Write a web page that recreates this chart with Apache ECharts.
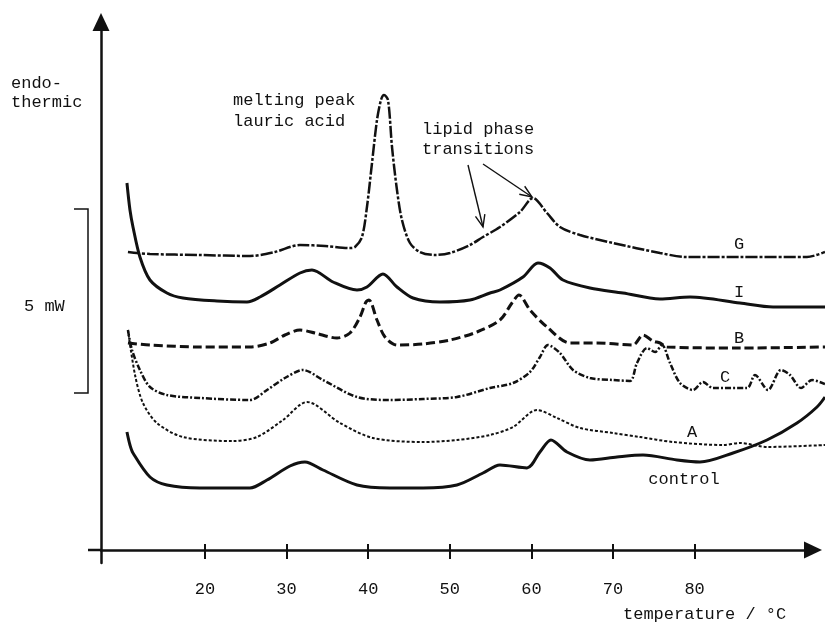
<!DOCTYPE html>
<html>
<head>
<meta charset="utf-8">
<title>DSC thermograms</title>
<script src="https://cdn.jsdelivr.net/npm/echarts@6/dist/echarts.min.js"></script>
<style>
  html, body { margin: 0; padding: 0; background: #fff; }
  #chart { width: 825px; height: 622px; }
</style>
</head>
<body>
<div id="chart"></div>
<script>
// temperature (°C) / heat flow (arbitrary, endothermic up)
const tempTicks = [20, 30, 40, 50, 60, 70, 80];

const curveG = [
  [10.56, 298], [13.26, 296], [19.39, 295], [25.51, 294], [28.58, 298], [31.64, 305],
  [34.71, 304], [37.77, 302], [38.38, 303], [39.24, 313], [39.85, 343], [40.47, 387],
  [41.08, 430], [41.57, 450], [41.94, 455], [42.43, 450], [42.92, 403], [43.53, 360],
  [44.14, 330], [45.12, 307], [46.35, 298], [48.19, 295], [50.02, 297], [52.47, 305],
  [54.07, 313], [56.15, 323], [58.6, 338], [60.2, 352], [61.91, 337], [63.5, 323],
  [65.96, 315], [70.0, 307], [75.76, 297], [79.07, 293], [85.56, 293], [93.77, 293],
  [95.98, 298]
];
const curveI = [
  [10.44, 367], [10.81, 340], [11.18, 323], [12.03, 293], [13.26, 270], [15.34, 257],
  [17.3, 252], [21.47, 249], [25.15, 248], [26.74, 253], [29.19, 265], [31.64, 277],
  [33.11, 280], [35.69, 268], [38.63, 260], [39.85, 263], [41.81, 276], [43.53, 263],
  [45.49, 252], [48.8, 248], [52.47, 250], [54.93, 257], [56.15, 260], [58.97, 273],
  [60.81, 287], [62.28, 282], [63.87, 270], [67.18, 262], [71.23, 257], [75.76, 251],
  [79.44, 253], [85.56, 247], [89.61, 243], [95.98, 243]
];
const curveB = [
  [10.56, 207], [13.26, 205], [19.39, 203], [25.51, 203], [27.97, 207], [29.8, 215],
  [31.64, 220], [33.48, 217], [36.18, 212], [37.77, 217], [39.0, 233], [39.73, 248],
  [40.1, 250], [41.08, 230], [42.06, 213], [43.53, 205], [46.72, 206], [50.02, 210],
  [53.33, 218], [56.15, 230], [57.62, 247], [58.48, 255], [59.83, 240], [61.91, 223],
  [64.73, 207], [68.04, 207], [72.45, 205], [73.68, 215], [74.9, 209], [75.76, 207],
  [76.62, 203], [85.56, 202], [95.98, 203]
];
const curveC = [
  [10.56, 220], [11.06, 200], [12.03, 180], [13.26, 163], [15.34, 155], [19.39, 152],
  [25.51, 150], [27.6, 160], [29.8, 172], [32.01, 180], [34.46, 170], [38.63, 153],
  [42.67, 150], [46.72, 151], [50.88, 153], [54.93, 162], [57.75, 167], [59.83, 178],
  [61.05, 193], [62.03, 205], [63.5, 197], [65.1, 180], [67.18, 172], [70.0, 170],
  [72.08, 169], [72.94, 187], [74.17, 202], [75.15, 198], [76.0, 205], [76.99, 187],
  [78.21, 167], [79.8, 160], [81.03, 168], [82.25, 162], [86.42, 162], [87.4, 175],
  [88.99, 160], [90.59, 180], [91.69, 175], [93.04, 162], [94.39, 170], [95.98, 166]
];
const curveA = [
  [10.56, 220], [11.43, 175], [12.4, 147], [14.12, 127], [17.3, 113], [23.43, 109],
  [26.37, 113], [29.56, 130], [32.5, 148], [36.54, 127], [40.59, 112], [46.72, 108],
  [50.88, 110], [54.93, 115], [57.75, 123], [60.69, 140], [63.14, 132], [65.96, 122],
  [70.0, 117], [73.31, 113], [77.35, 108], [83.48, 105], [85.56, 107], [88.87, 103],
  [95.98, 105]
];
const curveControl = [
  [10.44, 118], [10.81, 105], [11.18, 97], [13.26, 73], [15.34, 65], [19.39, 62],
  [25.51, 62], [27.6, 70], [30.42, 84], [32.25, 88], [34.46, 80], [38.63, 65],
  [42.67, 62], [46.72, 62], [50.88, 65], [54.07, 77], [56.15, 85], [59.46, 82],
  [61.05, 98], [62.4, 110], [64.36, 98], [67.18, 90], [70.49, 93], [73.68, 95],
  [77.84, 90], [80.66, 88], [84.71, 97], [88.87, 110], [92.55, 127], [95.0, 143],
  [95.98, 153]
];

const FONT = '17px "Liberation Mono", "DejaVu Sans Mono", monospace';
const X_MIN = 7.26;

function label(text, x, y, align) {
  return {
    type: 'text',
    style: { text: text, x: x, y: y, font: FONT, fill: '#111', align: align || 'left', verticalAlign: 'middle' }
  };
}

// line with an open arrow head at the end
function arrow(x1, y1, x2, y2) {
  const a = Math.atan2(y2 - y1, x2 - x1);
  const len = 13, spread = 0.38;
  return [
    { type: 'line', shape: { x1: x1, y1: y1, x2: x2, y2: y2 }, style: { stroke: '#111', lineWidth: 1.4 } },
    {
      type: 'polyline',
      shape: {
        points: [
          [x2 - len * Math.cos(a - spread), y2 - len * Math.sin(a - spread)],
          [x2, y2],
          [x2 - len * Math.cos(a + spread), y2 - len * Math.sin(a + spread)]
        ]
      },
      style: { stroke: '#111', lineWidth: 1.4, fill: null }
    }
  ];
}

// curves live in a second grid that runs to the right edge (same scale as the drawn axes)
function curve(name, data, width, dash) {
  return {
    name: name,
    type: 'line',
    xAxisIndex: 2,
    yAxisIndex: 1,
    data: data,
    showSymbol: false,
    smooth: 0.3,
    silent: true,
    lineStyle: { color: '#111', width: width, type: dash }
  };
}

const chart = echarts.init(document.getElementById('chart'));

chart.setOption({
  backgroundColor: '#fff',
  animation: false,
  grid: [
    { left: 101, right: 12, top: 22, bottom: 59, outerBoundsMode: 'none' },
    { left: 101, right: 0, top: 22, bottom: 59, outerBoundsMode: 'none' }
  ],
  xAxis: [
    {
      type: 'value',
      gridIndex: 0,
      min: X_MIN,
      max: 94.51,
      axisLine: {
        onZero: true,
        symbol: ['none', 'triangle'],
        symbolSize: [17, 18],
        lineStyle: { color: '#111', width: 2.5 }
      },
      axisTick: { customValues: tempTicks, length: 9, lineStyle: { color: '#111', width: 2 } },
      axisLabel: { customValues: tempTicks, margin: 18, color: '#111', fontSize: 17, fontFamily: '"Liberation Mono", monospace' },
      splitLine: { show: false }
    },
    {
      // upper half of the crossing tick marks
      type: 'value',
      gridIndex: 0,
      position: 'top',
      min: X_MIN,
      max: 94.51,
      axisLine: { show: false, onZero: true, onZeroAxisIndex: 0 },
      axisTick: { customValues: tempTicks, length: 6, lineStyle: { color: '#111', width: 2 } },
      axisLabel: { show: false },
      splitLine: { show: false }
    },
    {
      type: 'value',
      gridIndex: 1,
      show: false,
      min: X_MIN,
      max: 95.98
    }
  ],
  yAxis: [
    {
      type: 'value',
      gridIndex: 0,
      min: -13,
      max: 528,
      axisLine: {
        show: true,
        symbol: ['none', 'triangle'],
        symbolSize: [17, 18],
        lineStyle: { color: '#111', width: 2.5 }
      },
      axisTick: { show: false },
      axisLabel: { show: false },
      splitLine: { show: false }
    },
    {
      type: 'value',
      gridIndex: 1,
      show: false,
      min: -13,
      max: 528
    }
  ],
  series: [
    curve('G', curveG, 2.5, [12, 2, 3, 2]),
    curve('I', curveI, 3, 'solid'),
    curve('B', curveB, 3, [9, 4]),
    curve('C', curveC, 2.5, [6, 2, 2, 2]),
    curve('A', curveA, 2, [3, 2]),
    curve('control', curveControl, 3, 'solid')
  ],
  graphic: [
    // left stub of the x axis and the 5 mW scale bar
    { type: 'line', shape: { x1: 88, y1: 550, x2: 101, y2: 550 }, style: { stroke: '#111', lineWidth: 2.5 } },
    { type: 'polyline', shape: { points: [[74, 209], [88, 209], [88, 393], [74, 393]] }, style: { stroke: '#111', lineWidth: 1.5, fill: null } },
    label('endo-', 11, 83),
    label('thermic', 11, 102),
    label('5 mW', 24, 306),
    label('melting peak', 233, 100),
    label('lauric acid', 233, 121),
    label('lipid phase', 422, 129),
    label('transitions', 422, 149),
    ...arrow(468, 165, 483, 227),
    ...arrow(483, 164, 532, 197),
    label('G', 739, 244, 'center'),
    label('I', 739, 292, 'center'),
    label('B', 739, 338, 'center'),
    label('C', 725, 377, 'center'),
    label('A', 692, 432, 'center'),
    label('control', 684, 479, 'center'),
    label('temperature / °C', 623, 614)
  ]
});
</script>
</body>
</html>
